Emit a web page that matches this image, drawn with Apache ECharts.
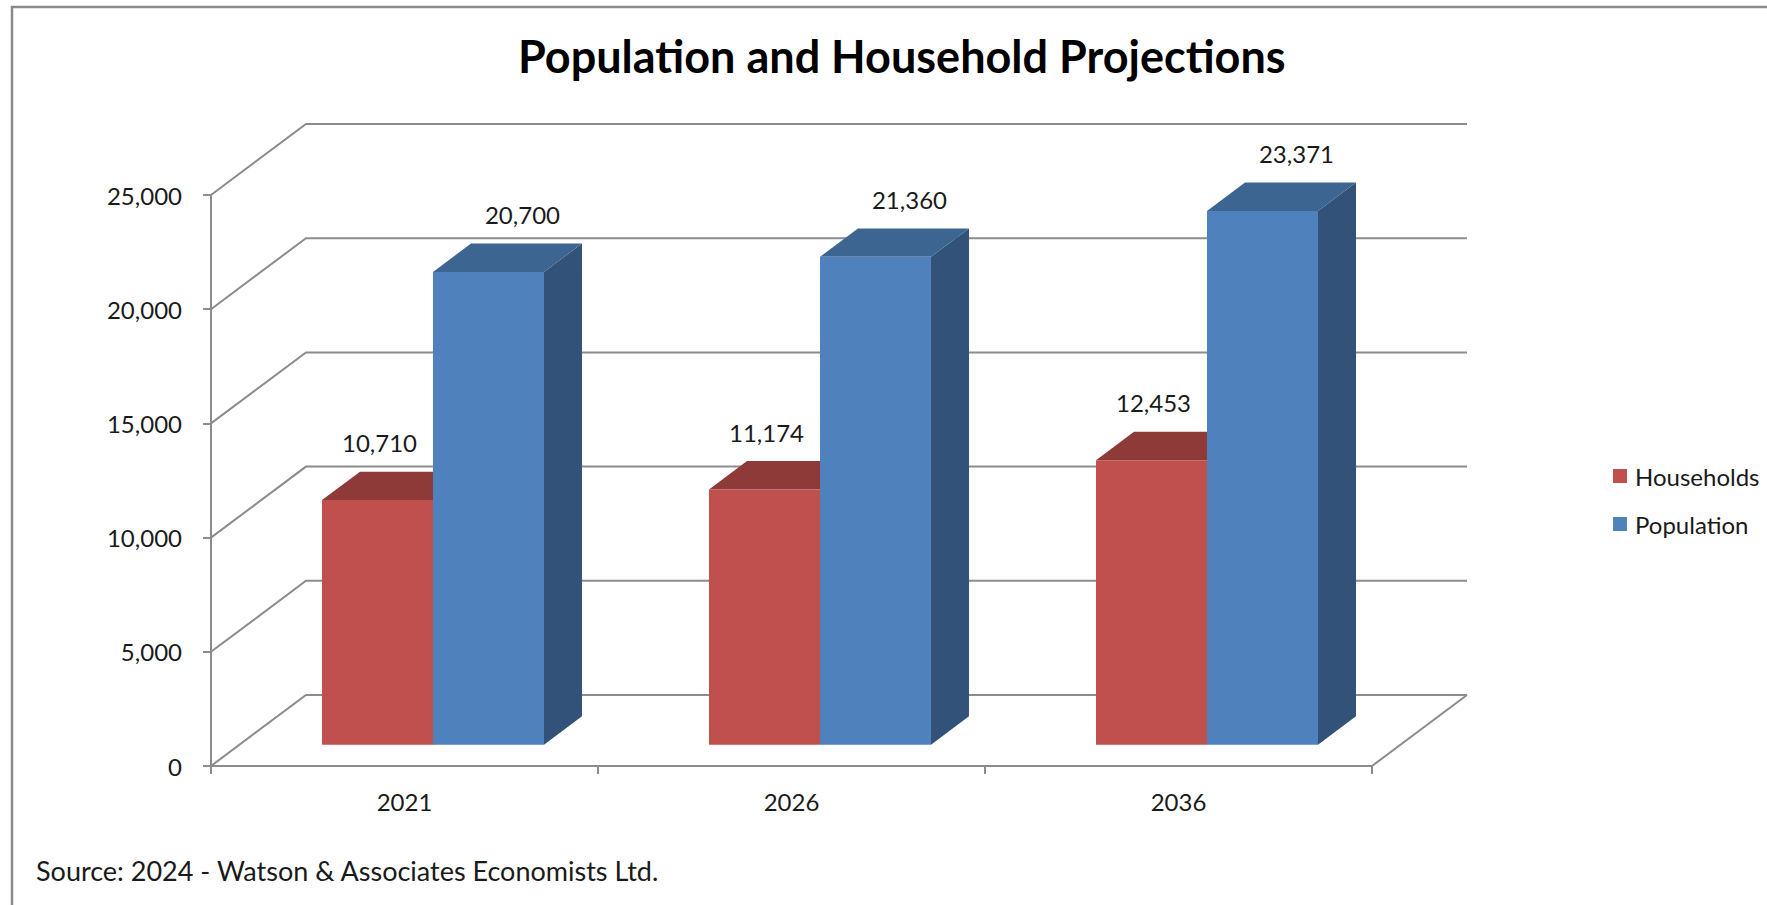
<!DOCTYPE html>
<html>
<head>
<meta charset="utf-8">
<script src="https://cdn.jsdelivr.net/npm/echarts@6/dist/echarts.min.js"></script>
<style>
html,body{margin:0;padding:0;background:#fff;}
#chart{width:1767px;height:905px;}
</style>
</head>
<body>
<div id="chart"></div>
<script>
const categories = ['2021', '2026', '2036'];
const households = [10710, 11174, 12453];
const population = [20700, 21360, 23371];
const yTicks = [0, 5000, 10000, 15000, 20000, 25000];
const seriesNames = ['Households', 'Population'];
const titleText = 'Population and Household Projections';
const sourceText = 'Source: 2024 - Watson & Associates Economists Ltd.';

// 3D look (style constants)
const DX = 95, DY = -71;          // depth offset of the floor/walls
const DEPTH_FRONT = 0.3, DEPTH_BACK = 0.7;
const BAR_FRAC = 0.2868;          // bar width as share of category band
const FONT = 'Lato, "Open Sans", sans-serif';
const GRID_COLOR = '#8c8c8c';
const TEXT_COLOR = '#1a1a1a';

const fmt = v => Number(v).toLocaleString('en-US');

function gridRender(params, api) {
  const cs = params.coordSys;
  const v = api.value(1);
  const p = api.coord([0, v]);
  const x0 = cs.x, x1 = cs.x + cs.width, y = p[1];
  const children = [{
    type: 'polyline',
    shape: { points: [[x0, y], [x0 + DX, y + DY], [x1 + DX, y + DY]] },
    style: { stroke: GRID_COLOR, lineWidth: 2, fill: null }
  }];
  if (v === 0) {
    children.push({
      type: 'line',
      shape: { x1: x1, y1: y, x2: x1 + DX, y2: y + DY },
      style: { stroke: GRID_COLOR, lineWidth: 2 }
    });
  }
  return { type: 'group', children: children };
}

function barRender(slot, colors, labelShift) {
  return function (params, api) {
    const cat = api.value(0), v = api.value(1);
    const base = api.coord([cat, 0]);
    const top = api.coord([cat, v]);
    const band = api.size([1, 0])[0];
    const w = band * BAR_FRAC;
    const xl = base[0] + (slot === 0 ? -w : 0);
    const xr = xl + w;
    const fx = DX * DEPTH_FRONT, fy = DY * DEPTH_FRONT;
    const bx = DX * DEPTH_BACK, by = DY * DEPTH_BACK;
    return {
      type: 'group',
      children: [
        { type: 'polygon', shape: { points: [[xr + fx, top[1] + fy], [xr + bx, top[1] + by], [xr + bx, base[1] + by], [xr + fx, base[1] + fy]] },
          style: { fill: colors.side } },
        { type: 'polygon', shape: { points: [[xl + fx, top[1] + fy], [xr + fx, top[1] + fy], [xr + bx, top[1] + by], [xl + bx, top[1] + by]] },
          style: { fill: colors.top } },
        { type: 'rect', shape: { x: xl + fx, y: top[1] + fy, width: w, height: base[1] - top[1] },
          style: { fill: colors.front } },
        { type: 'text', style: { text: fmt(v), x: (xl + xr) / 2 + fx + labelShift, y: top[1] + by - 29,
            align: 'center', verticalAlign: 'middle', fontSize: 24, fontFamily: FONT, fill: TEXT_COLOR } }
      ]
    };
  };
}

const chart = echarts.init(document.getElementById('chart'), null, { renderer: 'svg' });
chart.setOption({
  animation: false,
  backgroundColor: '#fff',
  title: [
    { text: titleText, left: 513, top: 28,
      textStyle: { fontFamily: FONT, fontWeight: 'bold', fontSize: 45, color: '#000', lineHeight: 45 } },
    { text: sourceText, left: 31, top: 852,
      textStyle: { fontFamily: FONT, fontWeight: 'normal', fontSize: 27, color: TEXT_COLOR, lineHeight: 27 } }
  ],
  graphic: [{
    type: 'polyline', silent: true,
    shape: { points: [[12, 905], [12, 7], [1767, 7]] },
    style: { stroke: '#8a8a8a', lineWidth: 2.5, fill: null }
  }],
  legend: {
    data: seriesNames, orient: 'vertical', left: 1608, top: 458,
    itemWidth: 14, itemHeight: 14, itemGap: 22, icon: 'rect',
    textStyle: { fontFamily: FONT, fontSize: 24, color: TEXT_COLOR, lineHeight: 26, padding: [0, 0, 0, 3] }
  },
  grid: { left: 211, right: 395, top: 195, bottom: 139 },
  xAxis: {
    type: 'category', data: categories, boundaryGap: true,
    axisLine: { lineStyle: { color: GRID_COLOR, width: 2 } },
    axisTick: { show: true, length: 8, lineStyle: { color: GRID_COLOR, width: 2 } },
    axisLabel: { fontFamily: FONT, fontSize: 24, color: TEXT_COLOR, margin: 23 },
    splitLine: { show: false }
  },
  yAxis: {
    type: 'value', min: 0, max: 25000, interval: 5000,
    axisLine: { show: true, lineStyle: { color: GRID_COLOR, width: 2 } },
    axisTick: { show: true, length: 8, lineStyle: { color: GRID_COLOR, width: 2 } },
    axisLabel: { fontFamily: FONT, fontSize: 24, color: TEXT_COLOR, margin: 29, formatter: fmt },
    splitLine: { show: false }
  },
  series: [
    { type: 'custom', name: '_grid', z: 1, renderItem: gridRender, silent: true,
      data: yTicks.map(t => [0, t]), encode: { x: 0, y: 1 } },
    { type: 'custom', name: seriesNames[0], z: 2, itemStyle: { color: '#C0504D' },
      renderItem: barRender(0, { front: '#C0504D', top: '#8E3A38', side: '#953735' }, 2),
      data: households.map((v, i) => [i, v]), encode: { x: 0, y: 1 } },
    { type: 'custom', name: seriesNames[1], z: 3, itemStyle: { color: '#4F81BD' },
      renderItem: barRender(1, { front: '#4F81BD', top: '#3D6591', side: '#32527A' }, 34),
      data: population.map((v, i) => [i, v]), encode: { x: 0, y: 1 } }
  ]
});
</script>
</body>
</html>
